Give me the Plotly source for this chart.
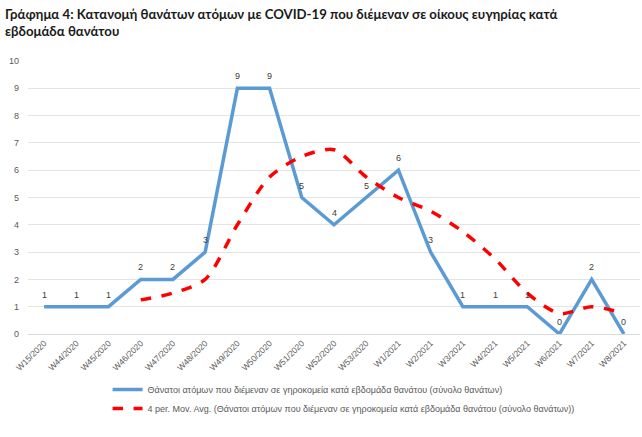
import plotly.graph_objects as go

weeks = ["W15/2020", "W44/2020", "W45/2020", "W46/2020", "W47/2020", "W48/2020",
         "W49/2020", "W50/2020", "W51/2020", "W52/2020", "W53/2020", "W1/2021",
         "W2/2021", "W3/2021", "W4/2021", "W5/2021", "W6/2021", "W7/2021", "W8/2021"]
deaths = [1, 1, 1, 2, 2, 3, 9, 9, 5, 4, 5, 6, 3, 1, 1, 1, 0, 2, 0]
mov_avg = [None, None, None, 1.25, 1.5, 2, 4, 5.75, 6.5, 6.75, 5.75, 5, 4.5,
           3.75, 2.75, 1.5, 0.75, 1, 0.75]

name1 = "Θάνατοι ατόμων που διέμεναν σε γηροκομεία κατά εβδομάδα θανάτου (σύνολο θανάτων)"
name2 = "4 per. Mov. Avg. (Θάνατοι ατόμων που διέμεναν σε γηροκομεία κατά εβδομάδα θανάτου (σύνολο θανάτων))"
title = "Γράφημα 4: Κατανομή θανάτων ατόμων με COVID-19 που διέμεναν σε οίκους ευγηρίας κατά<br>εβδομάδα θανάτου"

FONT = "Liberation Sans"
W, H = 642, 437
ML, MR, MT, MB = 28, 2, 61, 103
PW, PH = W - ML - MR, H - MT - MB

fig = go.Figure()
fig.add_trace(go.Scatter(
    x=weeks, y=deaths, name=name1, mode="lines",
    line=dict(color="#5B9BD5", width=3.5),
))
fig.add_trace(go.Scatter(
    x=weeks, y=mov_avg, name=name2, mode="lines",
    line=dict(color="#FF0000", width=3.5, dash="dash", shape="spline", smoothing=0.8),
))

for wk, v in zip(weeks, deaths):
    fig.add_annotation(x=wk, y=v, text=str(v), showarrow=False, yshift=12,
                       font=dict(size=9, color="#404040", family=FONT))

fig.add_annotation(
    text=title, xref="paper", yref="paper",
    x=(3 - ML) / PW, y=1 + (MT - 4) / PH, xanchor="left", yanchor="top",
    align="left", showarrow=False,
    font=dict(family="Lato", size=13.2, color="#1a1a1a", weight="bold"),
)

fig.update_layout(
    width=W, height=H,
    margin=dict(l=ML, r=MR, t=MT, b=MB),
    paper_bgcolor="white", plot_bgcolor="white",
    font=dict(family=FONT, size=9, color="#595959"),
    showlegend=True,
    legend=dict(
        orientation="v", x=0.13, xanchor="left", y=-0.15, yanchor="top",
        font=dict(size=9, color="#595959", family=FONT),
        tracegroupgap=0, itemwidth=30,
    ),
    xaxis=dict(
        type="category", tickangle=-45, showgrid=False,
        showline=True, linecolor="#d9d9d9", linewidth=1,
        ticks="", tickfont=dict(size=8.5, color="#595959"),
        range=[-0.5, 18.5],
    ),
    yaxis=dict(
        range=[0, 10], dtick=1, showgrid=True, gridcolor="#e4e4e4", gridwidth=1,
        zeroline=False, ticks="", tickfont=dict(size=9, color="#595959"),
        ticklabelstandoff=8,
    ),
)

fig.write_html("out.html", config={"displayModeBar": False},
               post_script="document.body.style.margin='0';")
